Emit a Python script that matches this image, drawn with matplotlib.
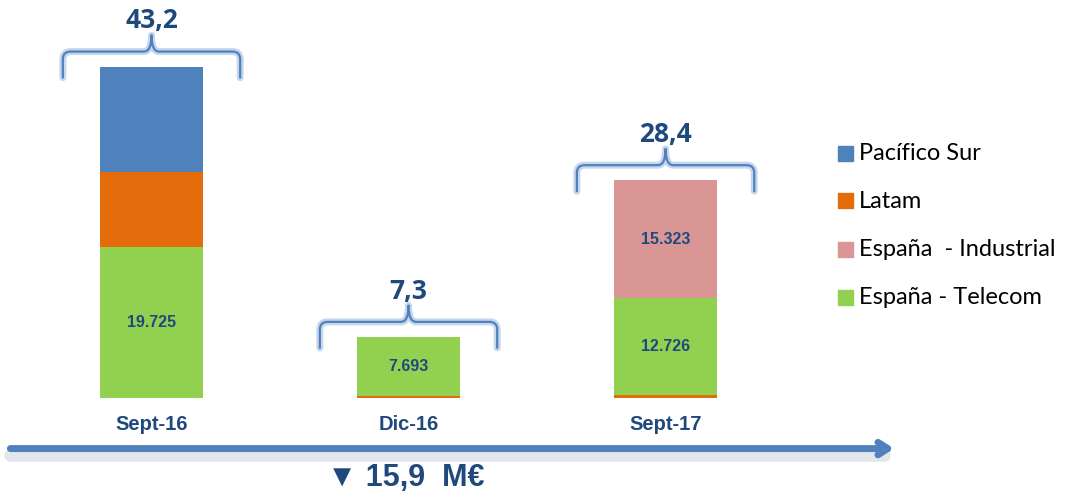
import numpy as np
import matplotlib.pyplot as plt
from matplotlib.path import Path
from matplotlib.patches import PathPatch, Rectangle

# Data (M€ / miles €)
periods = ["Sept-16", "Dic-16", "Sept-17"]
totals = ["43,2", "7,3", "28,4"]
telecom = [19.725, 7.693, 12.726]
latam = [9.8, 0.25, 0.35]
industrial = [0.0, 0.0, 15.323]
pacifico = [13.7, 0.0, 0.0]
telecom_labels = ["19.725", "7.693", "12.726"]
industrial_labels = ["", "", "15.323"]
change_text = "▼ 15,9  M€"

c_blue = "#4f81bd"
c_orange = "#e46c0a"
c_pink = "#d99694"
c_green = "#92d050"
c_text = "#1f497d"

fig = plt.figure(figsize=(10.66, 4.95), dpi=100)
ax = fig.add_axes([0, 0, 1, 1])
ax.set_xlim(-0.5895, 3.558)
ax.set_ylim(-12.66, 51.96)
ax.axis("off")

x = np.arange(len(periods))
w = 0.4
# Sept-16: Latam sits on top of Telecom; later periods: Latam is a thin strip at the base
tel_bottom = [0 if i == 0 else latam[i] for i in range(3)]
latam_bottom = [telecom[i] if i == 0 else 0 for i in range(3)]
ind_bottom = [tel_bottom[i] + telecom[i] for i in range(3)]
pac_bottom = [telecom[i] + latam[i] for i in range(3)]
ax.bar(x, telecom, w, bottom=tel_bottom, color=c_green)
ax.bar(x, latam, w, bottom=latam_bottom, color=c_orange)
ax.bar(x, industrial, w, bottom=ind_bottom, color=c_pink)
ax.bar(x, pacifico, w, bottom=pac_bottom, color=c_blue)

tops = [telecom[i] + latam[i] + industrial[i] + pacifico[i] for i in range(3)]

for i in range(3):
    ax.text(x[i], tel_bottom[i] + telecom[i] / 2, telecom_labels[i], ha="center", va="center",
            fontsize=11.5, fontweight="bold", color=c_text, family="Liberation Sans")
    if industrial_labels[i]:
        ax.text(x[i], ind_bottom[i] + industrial[i] / 2, industrial_labels[i], ha="center", va="center",
                fontsize=11.5, fontweight="bold", color=c_text, family="Liberation Sans")
    ax.text(x[i], -3.5, periods[i], ha="center", va="center", fontsize=14.5,
            fontweight="bold", color=c_text, family="Liberation Sans")

# braces above each bar
for i in range(3):
    c, t = x[i], tops[i]
    hw = 0.345
    h1 = t + 2.0
    pk = t + 4.1
    verts, codes = [], []
    for s in (-1, 1):
        verts += [(c + s * hw, t - 1.4), (c + s * hw, h1 - 1.0), (c + s * hw, h1),
                  (c + s * (hw - 0.03), h1), (c + s * 0.03, h1), (c, h1), (c, pk)]
        codes += [Path.MOVETO, Path.LINETO, Path.CURVE3, Path.CURVE3,
                  Path.LINETO, Path.CURVE3, Path.CURVE3]
    path = Path(verts, codes)
    ax.add_patch(PathPatch(path, fill=False, lw=5, ec="#c6d6ec", capstyle="round"))
    ax.add_patch(PathPatch(path, fill=False, lw=1.6, ec=c_blue, capstyle="round"))
    ax.text(c, t + 6.0, totals[i], ha="center", va="center", fontsize=19,
            fontweight="bold", color=c_text, family="Open Sans")

# timeline arrow
ax.plot([-0.55, 2.85], [-7.5, -7.5], lw=9, color="#e3e6ea", solid_capstyle="round", zorder=1)
ax.annotate("", xy=(2.9, -6.6), xytext=(-0.56, -6.6),
            arrowprops=dict(arrowstyle="->,head_length=0.7,head_width=0.45", lw=5, color=c_blue))
ax.text(0.99, -10.5, change_text, ha="center", va="center", fontsize=22,
        fontweight="bold", color=c_text, family=["Liberation Sans", "DejaVu Sans"])

# legend
leg_colors = [c_blue, c_orange, c_pink, c_green]
leg_names = ["Pacífico Sur", "Latam", "España  - Industrial", "España - Telecom"]
for k in range(4):
    yy = 1 - (153 + 48 * k) / 495
    fig.patches.append(Rectangle((838 / 1066, yy - 7.5 / 495), 15 / 1066, 15 / 495,
                                 color=leg_colors[k], transform=fig.transFigure))
    fig.text(859 / 1066, yy, leg_names[k], ha="left", va="center", fontsize=17,
             color="black", family="Lato")

fig.savefig("out.png", dpi=100)
